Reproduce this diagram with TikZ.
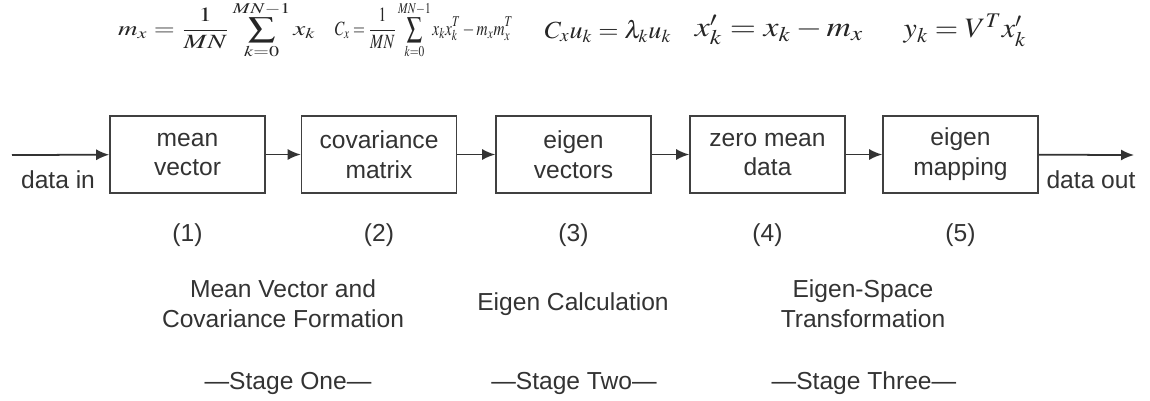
\documentclass[tikz,border=0pt]{standalone}
\usepackage{mathptmx}
\usepackage{fontspec}
\setsansfont{Liberation Sans}
\usetikzlibrary{arrows.meta,positioning}

\begin{document}
\begin{tikzpicture}[
  x=0.02cm, y=-0.02cm,
  font=\sffamily\fontsize{14}{17}\selectfont, text=black!80,
  procbox/.style={draw=black!75, line width=0.9pt, align=center, minimum width=31mm, minimum height=15.4mm, inner sep=0pt},
  note/.style={align=center},
  eqn/.style={text=black!85, inner sep=0pt},
  flow/.style={-{Latex[length=2.6mm,width=2.2mm]}, line width=1pt, draw=black!80}
]
\useasboundingbox (0,0) rectangle (1150,400);

% equations
\node[eqn, font=\fontsize{11.5}{14}\selectfont] (eq1) at (217,30)
  {\scalebox{1.34}[1]{$\displaystyle m_x=\frac{1}{MN}\sum_{k=0}^{MN-1}x_k$}};
\node[eqn, font=\fontsize{11.5}{14}\selectfont] (eq2) at (424,30)
  {\scalebox{0.76}[1]{$\displaystyle C_x=\frac{1}{MN}\sum_{k=0}^{MN-1}x_kx_k^T-m_xm_x^T$}};
\node[eqn, font=\fontsize{14}{17}\selectfont] (eq3) at (608,31)
  {\scalebox{1.06}[1]{$C_xu_k=\lambda_ku_k$}};
\node[eqn, font=\fontsize{16}{19}\selectfont] (eq4) at (779,30)
  {\scalebox{1.2}[1]{$x'_k=x_k-m_x$}};
\node[eqn, font=\fontsize{16}{19}\selectfont] (eq5) at (965,30)
  {\scalebox{1.07}[1]{$y_k=V^Tx'_k$}};

% processing chain
\node[procbox] (mean) at (187.5,154.5) {mean\\vector};
\node[procbox] (cov) at (379,154.5) {covariance\\matrix};
\node[procbox] (eig) at (573.5,154.5) {eigen\\vectors};
\node[procbox] (zero) at (767.5,154.5) {zero mean\\data};
\node[procbox] (map) at (960.5,154.5) {eigen\\mapping};

\coordinate (in) at (12,155);
\coordinate (out) at (1134,155);
\draw[flow] (in) -- (mean);
\draw[flow] (mean) -- (cov);
\draw[flow] (cov) -- (eig);
\draw[flow] (eig) -- (zero);
\draw[flow] (zero) -- (map);
\draw[flow] (map) -- (out);
\node[note] (din) at (58,180) {data in};
\node[note] (dout) at (1091,180) {data out};

% step numbers
\node (n1) at (187.5,235) {(1)};
\node (n2) at (379,235) {(2)};
\node (n3) at (573.5,235) {(3)};
\node (n4) at (767.5,235) {(4)};
\node (n5) at (960.5,235) {(5)};

% stages
\node[note] (s1) at (283,304) {Mean Vector and\\Covariance Formation};
\node[note] (s2) at (573,304) {Eigen Calculation};
\node[note] (s3) at (863,304) {Eigen-Space\\Transformation};

\node (st1) at (288,383) {\textemdash Stage One\textemdash};
\node (st2) at (574,383) {\textemdash Stage Two\textemdash};
\node (st3) at (864,383) {\textemdash Stage Three\textemdash};

\end{tikzpicture}
\end{document}
